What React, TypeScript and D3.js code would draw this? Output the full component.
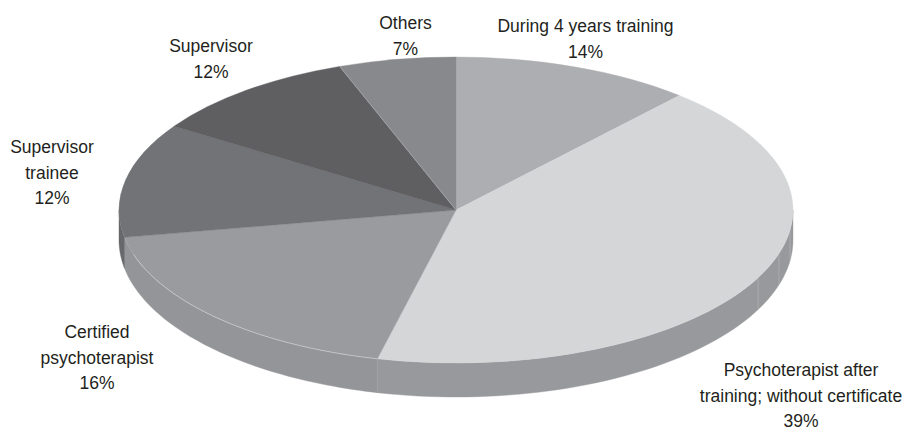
import React from 'react';
import * as d3 from 'd3';

// labels and printed percentages
const categories = [
  ['During 4 years training'],
  ['Psychoterapist after', 'training; without certificate'],
  ['Certified', 'psychoterapist'],
  ['Supervisor', 'trainee'],
  ['Supervisor'],
  ['Others'],
];
const percents = [14, 39, 16, 12, 12, 7];
const sweeps = [41.5, 152, 66.2, 43.5, 36.6, 20.2];

const topColors = ['#adaeb1', '#d5d6d8', '#9a9b9e', '#727376', '#5f5f62', '#88898c'];
const sideColors = ['#8f9093', '#98999c', '#949598', '#67686b', '#555558', '#77787b'];
const labelX = [585.5, 801, 97, 52, 211, 405.5];
const labelY = [32, 376, 338, 153, 52, 29];
const facetAngles = [97.6, 106.6, 116.3];

const width = 904;
const height = 427;
const cx = 456;
const cy = 210;
const rx = 337;
const ry = 153;
const lineHeight = 25.5;

const rad = (deg: number) => (deg * Math.PI) / 180;
const pie = d3.pie<number>().value(d => d).sort(null);
const arcs = pie(sweeps);
const arc = d3.arc<d3.PieArcDatum<number>>().innerRadius(0).outerRadius(rx);

// wall is a little deeper at the front than at the sides
const depth = (a: number) => 30 - 4 * Math.cos(a);
const edgeX = (a: number) => rx * Math.sin(a);
const edgeY = (a: number) => -ry * Math.cos(a);
const wall = d3.area<number>()
  .x(a => edgeX(a))
  .y0(a => edgeY(a))
  .y1(a => edgeY(a) + depth(a));
const rim = d3.line<number>().x(a => edgeX(a)).y(a => edgeY(a));

const angleSteps = (a0: number, a1: number) => d3.range(0, 61).map(i => a0 + ((a1 - a0) * i) / 60);

const frontWall = (start: number, end: number) => {
  const a0 = Math.max(start, Math.PI / 2);
  const a1 = Math.min(end, (3 * Math.PI) / 2);
  if (a1 <= a0) return null;
  return wall(angleSteps(a0, a1));
};

const App = () => {
  const seam = arcs[4].endAngle;
  const certified = arcs[2];
  return (
    <svg
      width={width}
      height={height}
      style={{ position: 'fixed', left: 0, top: 0, background: '#fff' }}
      fontFamily="'Liberation Sans', Arial, sans-serif"
    >
      <g transform={`translate(${cx},${cy})`}>
        {arcs.map((d, i) => {
          const p = frontWall(d.startAngle, d.endAngle);
          return p ? <path key={i} d={p} fill={sideColors[i]} stroke={sideColors[i]} strokeWidth={0.4} /> : null;
        })}
        {[...facetAngles.map(rad), arcs[1].endAngle].map((a, i) => (
          <line
            key={i}
            x1={edgeX(a)}
            x2={edgeX(a)}
            y1={edgeY(a)}
            y2={edgeY(a) + depth(a)}
            stroke={i < 3 ? '#b4b5b7' : '#a2a3a6'}
            strokeWidth={0.7}
          />
        ))}
        <g transform={`scale(1,${ry / rx})`}>
          {arcs.map((d, i) => (
            <path key={i} d={arc(d) ?? ''} fill={topColors[i]} stroke={topColors[i]} strokeWidth={0.4} vectorEffect="non-scaling-stroke" />
          ))}
        </g>
        <line x1={0} y1={0} x2={edgeX(seam)} y2={edgeY(seam)} stroke="#a9aaac" strokeWidth={0.7} />
        <path
          d={rim(angleSteps(certified.startAngle, certified.startAngle + (certified.endAngle - certified.startAngle) * 0.9)) ?? ''}
          fill="none"
          stroke="#d8d9da"
          strokeWidth={0.6}
        />
      </g>
      <g fontSize={17.5} fill="#231f20" textAnchor="middle">
        {categories.map((lines, i) => (
          <text key={i} x={labelX[i]} y={labelY[i]}>
            {[...lines, `${percents[i]}%`].map((t, j) => (
              <tspan key={j} x={labelX[i]} dy={j === 0 ? 0 : lineHeight}>{t}</tspan>
            ))}
          </text>
        ))}
      </g>
    </svg>
  );
};

export default App;
